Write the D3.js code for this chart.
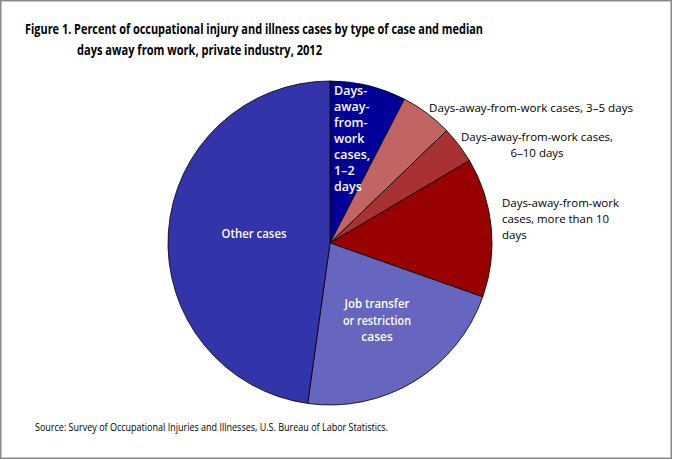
<!DOCTYPE html>
<html>
<head>
<meta charset="utf-8">
<script src="https://cdn.jsdelivr.net/npm/d3@7"></script>
<style>
  html, body { margin: 0; padding: 0; background: #fff; }
  svg { display: block; }
  text { font-family: "Open Sans", "Noto Sans", sans-serif; }
</style>
</head>
<body>
<svg id="chart" width="673" height="460"></svg>
<script>
// ---- Data ----
const categories = [
  "Days-away-from-work cases, 1–2 days",
  "Days-away-from-work cases, 3–5 days",
  "Days-away-from-work cases, 6–10 days",
  "Days-away-from-work cases, more than 10 days",
  "Job transfer or restriction cases",
  "Other cases"
];
const values = [7.6, 5.2, 3.7, 13.9, 21.8, 47.8];
const colors = ["#000099", "#C06464", "#A83232", "#990000", "#6666C0", "#3333AA"];
const titleLines = [
  "Figure 1. Percent of occupational  injury and illness cases by type of case and median",
  "days away from work, private industry, 2012"
];
const sourceText = "Source:  Survey of Occupational  Injuries and Illnesses, U.S. Bureau  of Labor Statistics.";

const svg = d3.select("#chart");
const W = 673, H = 460;

svg.append("rect").attr("x", 0.75).attr("y", 0.75).attr("width", W - 2.5).attr("height", H - 2.5)
  .attr("fill", "#fff").attr("stroke", "#888").attr("stroke-width", 1.5);

// Title
const titleX = [25, 77], titleY = [34, 55], titleLen = [458, 245];
titleLines.forEach((t, i) => {
  svg.append("text").attr("x", titleX[i]).attr("y", titleY[i])
    .attr("font-size", 14).attr("font-weight", "bold").attr("fill", "#000")
    .attr("textLength", titleLen[i]).attr("lengthAdjust", "spacingAndGlyphs")
    .text(t);
});

// Pie
const cx = 330, cy = 243, r = 162;
const pie = d3.pie().sort(null).value(d => d);
const arc = d3.arc().innerRadius(0).outerRadius(r);
const g = svg.append("g").attr("transform", `translate(${cx},${cy})`);
g.selectAll("path").data(pie(values)).join("path")
  .attr("d", arc)
  .attr("fill", (d, i) => colors[i])
  .attr("stroke", "#000").attr("stroke-width", 0.8);

function multi(x, y, lines, opts) {
  const t = svg.append("text").attr("x", x).attr("y", y)
    .attr("font-size", opts.size).attr("fill", opts.fill)
    .attr("font-weight", opts.weight || "normal")
    .attr("text-anchor", opts.anchor || "start");
  lines.forEach((l, i) => {
    const ts = t.append("tspan").attr("x", x).attr("y", y + i * opts.lh).text(l);
    if (opts.lens && opts.lens[i]) ts.attr("textLength", opts.lens[i]).attr("lengthAdjust", "spacingAndGlyphs");
  });
  return t;
}
// Inside labels (white)
multi(334, 95, ["Days-", "away-", "from-", "work", "cases,", "1–2", "days"],
  { size: 12.5, fill: "#fff", weight: 600, lh: 16 });
multi(254, 238, ["Other cases"], { size: 12, fill: "#fff", weight: 600, anchor: "middle", lh: 16, lens: [65] });
multi(377, 308, ["Job transfer", "or restriction", "cases"],
  { size: 12, fill: "#fff", weight: 600, anchor: "middle", lh: 16.5, lens: [65, 68, 0] });

// Outside labels (black)
multi(429, 112, ["Days-away-from-work cases, 3–5 days"], { size: 11.5, fill: "#000", lh: 16, lens: [204] });
multi(537, 141, ["Days-away-from-work cases,", "6–10 days"],
  { size: 11.5, fill: "#000", anchor: "middle", lh: 16, lens: [152, 0] });
multi(502, 207, ["Days-away-from-work", "cases, more than 10", "days"],
  { size: 11.5, fill: "#000", lh: 16, lens: [117, 107, 0] });

// Source
svg.append("text").attr("x", 35).attr("y", 431)
  .attr("font-size", 11).attr("fill", "#000")
  .attr("textLength", 353).attr("lengthAdjust", "spacingAndGlyphs")
  .text(sourceText);
</script>
</body>
</html>
